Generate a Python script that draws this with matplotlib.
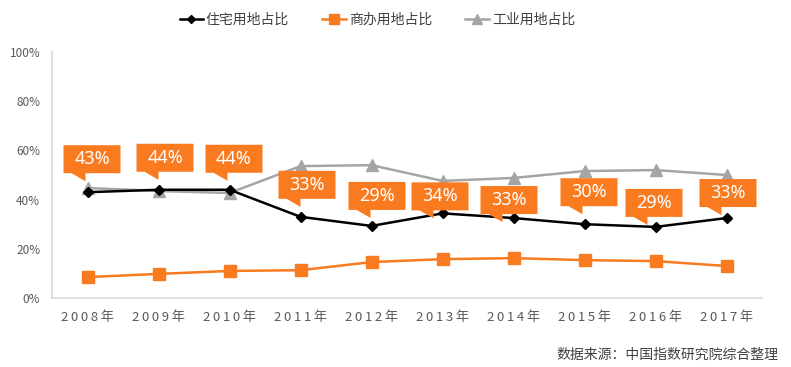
import numpy as np
import matplotlib.pyplot as plt
from matplotlib.patches import Polygon
from matplotlib.transforms import ScaledTranslation

plt.rcParams['font.family'] = ['Noto Sans CJK SC', 'DejaVu Sans']

years = ["2008年", "2009年", "2010年", "2011年", "2012年", "2013年", "2014年", "2015年", "2016年", "2017年"]
zhuzhai = [43, 44, 44, 33, 29.3, 34.4, 32.5, 30, 28.9, 32.5]      # 住宅用地占比 (%)
shangban = [8.5, 9.8, 11, 11.3, 14.6, 15.8, 16.2, 15.4, 15, 13]   # 商办用地占比 (%)
gongye = [44.7, 43.5, 42.7, 53.6, 54, 47.6, 48.8, 51.6, 52, 50]   # 工业用地占比 (%)
labels_zz = ["43%", "44%", "44%", "33%", "29%", "34%", "33%", "30%", "29%", "33%"]

# posizione dei riquadri (pixel rispetto al punto): spostamento coda, altezza base
coda_dx = [-2, 0, -2, 0, -1, -9, -11, -2, -8, -5]
base_dy = [19, 18, 17, 18, 16, 3, 4, 18, 10, 11]

arancio = "#F97A1F"
grigio = "#A5A5A5"

fig = plt.figure(figsize=(7.91, 3.67), dpi=100)
ax = fig.add_axes([52/791, 69/367, 710/791, 246/367])

x = np.arange(len(years))
ax.plot(x, zhuzhai, color="black", lw=1.8, marker="D", ms=5, label="住宅用地占比", zorder=4)
ax.plot(x, shangban, color=arancio, lw=1.8, marker="s", ms=8, label="商办用地占比", zorder=3)
ax.plot(x, gongye, color=grigio, lw=1.8, marker="^", ms=8, label="工业用地占比", zorder=2)

ax.set_xlim(-0.5, len(years) - 0.5)
ax.set_ylim(0, 100)
ax.set_yticks(range(0, 101, 20))
ax.set_yticklabels(["{}%".format(v) for v in range(0, 101, 20)], fontsize=8.5, color="#595959")
ax.set_xticks(x)
# lettere spaziate come nell'originale
ax.set_xticklabels(["\u2009".join(a) for a in years], fontsize=9.5, color="#595959")
ax.tick_params(length=0, pad=9)
ax.tick_params(axis="y", pad=8.5)
for s in ["top", "right"]:
    ax.spines[s].set_visible(False)
for s in ["left", "bottom"]:
    ax.spines[s].set_color("#D9D9D9")
    ax.spines[s].set_linewidth(1.2)

# riquadri arancioni con la coda
for i in range(len(years)):
    dx = coda_dx[i]
    b = base_dy[i]
    L, R, T = dx - 22, dx + 35, b + 28
    verts = np.array([(L, b), (dx - 14, b), (dx, b - 8), (dx, b), (R, b), (R, T), (L, T)]) / 100.0
    tr = fig.dpi_scale_trans + ScaledTranslation(x[i], zhuzhai[i], ax.transData)
    ax.add_patch(Polygon(verts, closed=True, facecolor=arancio, edgecolor="none", transform=tr, zorder=6, clip_on=False))
    ax.text((dx + 6.5) / 100.0, (b + 14) / 100.0, labels_zz[i], transform=tr, color="white", fontsize=13,
            ha="center", va="center", family=["Noto Sans", "DejaVu Sans"], zorder=7)

fig.legend(loc="center", bbox_to_anchor=(0.477, 0.945), ncol=3, frameon=False, fontsize=10,
           handlelength=1.7, columnspacing=2.4, handletextpad=0.2, labelcolor="#404040", markerscale=0.85)

fig.text(778/791, 1 - 355/367, "数据来源：中国指数研究院综合整理", ha="right", va="center", fontsize=10, color="#404040")

plt.savefig("out.png", dpi=100)
